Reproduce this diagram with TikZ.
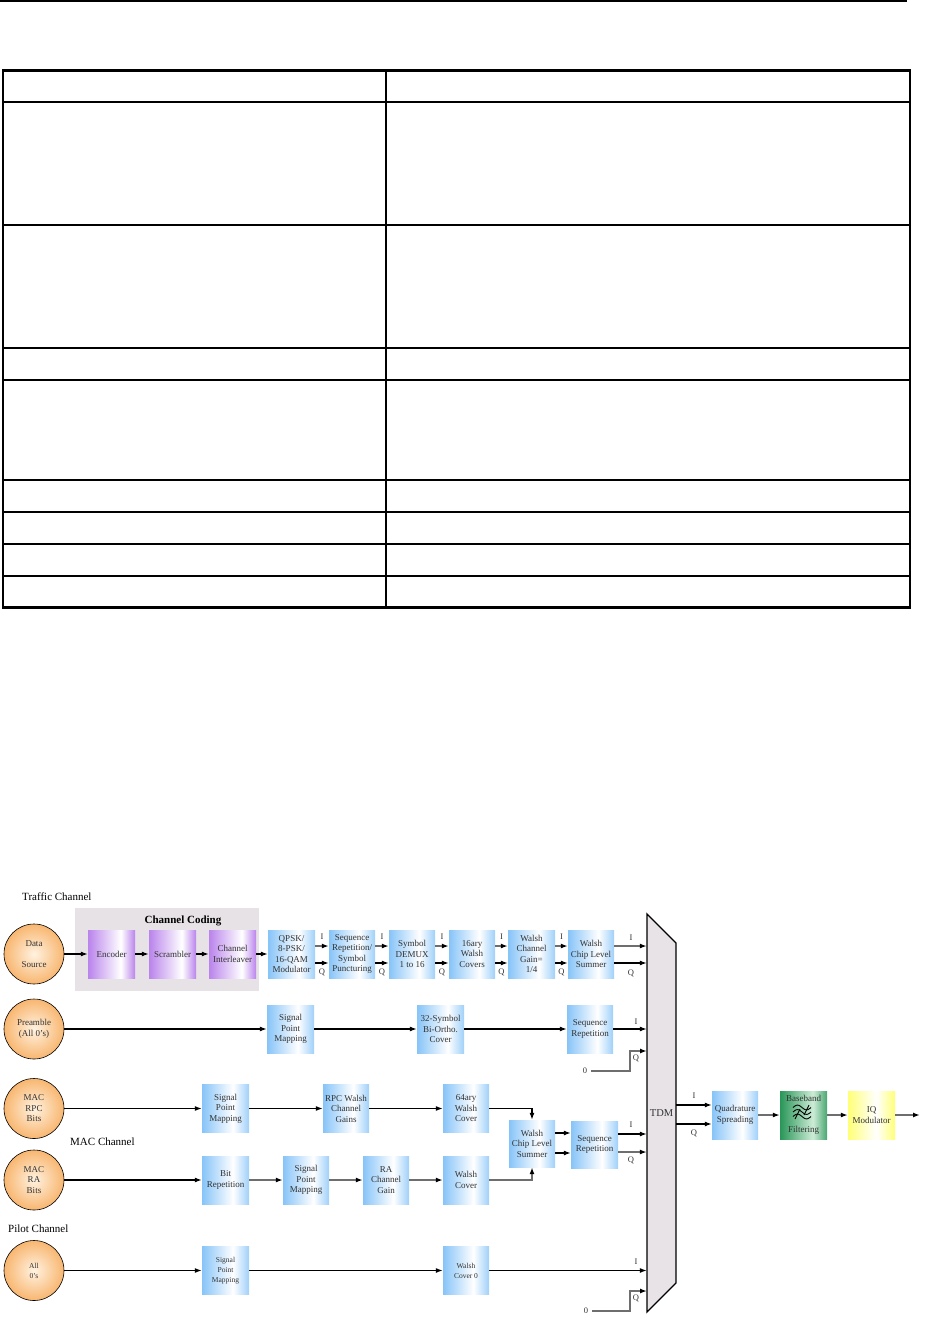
\documentclass[tikz,border=0pt]{standalone}
\usepackage{fontspec}
\setmainfont{Liberation Serif}
\usetikzlibrary{arrows.meta,calc}
\definecolor{bluec}{RGB}{135,196,248}
\definecolor{purc}{RGB}{186,132,236}
\definecolor{grnc}{RGB}{40,150,88}
\definecolor{grnl}{RGB}{205,236,214}
\definecolor{yelc}{RGB}{255,255,120}
\definecolor{orout}{RGB}{248,182,112}
\definecolor{orin}{RGB}{255,242,224}
\definecolor{ccgray}{RGB}{231,226,229}
\definecolor{tdmc}{RGB}{231,227,231}
\definecolor{grl}{RGB}{110,110,110}
\definecolor{txt}{RGB}{50,50,50}
\pgfdeclarehorizontalshading{bluesh}{100bp}{color(0bp)=(bluec); color(25bp)=(bluec); color(58bp)=(white); color(75bp)=(bluec!80); color(100bp)=(bluec!80)}
\pgfdeclarehorizontalshading{pursh}{100bp}{color(0bp)=(purc); color(25bp)=(purc); color(60bp)=(white); color(75bp)=(purc); color(100bp)=(purc)}
\pgfdeclarehorizontalshading{grnsh}{100bp}{color(0bp)=(grnc); color(25bp)=(grnc); color(60bp)=(grnl); color(75bp)=(grnc!85); color(100bp)=(grnc!85)}
\pgfdeclarehorizontalshading{yelsh}{100bp}{color(0bp)=(yelc); color(25bp)=(yelc); color(55bp)=(white); color(75bp)=(yelc); color(100bp)=(yelc)}
\newcommand\bxf{\fontsize{9}{10.5}\selectfont}
\newcommand\iqf{\fontsize{8.5}{10}\selectfont}
\newcommand\ttlf{\fontsize{11}{13}\selectfont}
\newcommand\smf{\fontsize{7.5}{10}\selectfont}
\begin{document}
\begin{tikzpicture}[x=1pt,y=-1pt,
  bx/.style={minimum width=47pt,minimum height=48pt,inner sep=0pt,align=center,font=\bxf,text=txt},
  blu/.style={bx,shading=bluesh},
  pur/.style={bx,shading=pursh},
  grn/.style={bx,shading=grnsh},
  yel/.style={bx,shading=yelsh},
  src/.style={circle,draw=black,line width=0.6pt,minimum size=60pt,inner sep=0pt,inner color=orin,outer color=orout,align=center,font=\bxf,text=txt},
  tip/.style={-{Latex[length=7pt,width=5pt,color=black]}},
  blk/.style={draw=black,line width=1.2pt,tip},
  gry/.style={draw=grl,line width=1.7pt,tip},
  iq/.style={font=\iqf,inner sep=0pt,text=txt},
  ttl/.style={font=\ttlf,anchor=west,inner sep=0pt}
]
\useasboundingbox (0,0) rectangle (924,1322);
% ---------- header rule and empty table ----------
\draw[line width=1.5pt] (0,1) -- (907,1);
\draw[line width=3pt] (2,71) -- (911,71);
\draw[line width=1.2pt] (3,102) -- (910,102);
\draw[line width=1.5pt] (3,225) -- (910,225);
\draw[line width=1.5pt] (3,348) -- (910,348);
\draw[line width=1.5pt] (3,380) -- (910,380);
\draw[line width=1.5pt] (3,480) -- (910,480);
\draw[line width=2pt] (3,512) -- (910,512);
\draw[line width=2.5pt] (3,544) -- (910,544);
\draw[line width=2.5pt] (3,576) -- (910,576);
\draw[line width=3pt] (2,607.5) -- (911,607.5);
\draw[line width=2pt] (3,70) -- (3,609);
\draw[line width=2pt] (910,70) -- (910,609);
\draw[line width=2.5pt] (386,70) -- (386,609);
% ---------- titles ----------
\node[ttl] at (22,897) {Traffic Channel};
\node[ttl] at (70,1142) {MAC Channel};
\node[ttl] at (8,1229) {Pilot Channel};
% ---------- channel coding group ----------
\node[fill=ccgray,minimum width=184pt,minimum height=83pt,inner sep=0pt] (cc) at (167,949.5) {};
\node[font=\ttlf\bfseries,inner sep=0pt] (cct) at (183,921) {Channel Coding};
% ---------- TDM ----------
\draw[fill=tdmc,line width=1.3pt] (647,914) -- (676,943) -- (676,1283) -- (647,1312) -- cycle;
\node[minimum width=29pt,minimum height=398pt,inner sep=0pt,font=\fontsize{10.5}{12}\selectfont,text=txt] (tdm) at (661.5,1113) {TDM};
% ---------- traffic row ----------
\node[src] (data) at (34,954) {Data\\[11pt]Source};
\node[pur] (enc) at (111.5,954) {Encoder};
\node[pur] (scr) at (172.5,954) {Scrambler};
\node[pur] (intl) at (232.5,954) {Channel\\Interleaver};
\node[blu] (qpsk) at (291.5,954) {QPSK/\\8-PSK/\\16-QAM\\Modulator};
\node[blu,minimum width=46pt] (seqrep) at (352,954) {Sequence\\Repetition/\\Symbol\\Puncturing};
\node[blu,minimum width=46pt] (demux) at (412,954) {Symbol\\DEMUX\\1 to 16};
\node[blu,minimum width=46pt] (wc16) at (472,954) {16ary\\Walsh\\Covers};
\node[blu] (wgain) at (531.5,954) {Walsh\\Channel\\Gain=\\1/4};
\node[blu,minimum width=46pt] (sum1) at (591,954) {Walsh\\Chip Level\\Summer};
\draw[blk] (data) -- (enc);
\draw[blk] (enc) -- (scr);
\draw[blk] (scr) -- (intl);
\draw[blk] (intl) -- (qpsk);
\foreach \a/\b in {qpsk/seqrep,seqrep/demux,demux/wc16,wc16/wgain,wgain/sum1}{
  \draw[gry] ([yshift=8pt]\a.east) -- ([yshift=8pt]\b.west);
  \draw[blk] ([yshift=-9pt]\a.east) -- ([yshift=-9pt]\b.west);
  \path ($(\a.east)!0.5!(\b.west)$) ++(0,-17) node[iq] {I};
  \path ($(\a.east)!0.5!(\b.west)$) ++(0,18) node[iq] {Q};
}
\draw[gry] ([yshift=8pt]sum1.east) -- ([yshift=8pt]sum1.east -| tdm.west);
\draw[blk] ([yshift=-9pt]sum1.east) -- ([yshift=-9pt]sum1.east -| tdm.west);
\node[iq] (l1) at (631,938) {I};
\node[iq] (l2) at (631,973) {Q};
% ---------- preamble row ----------
\node[src] (pre) at (34,1029) {Preamble\\(All 0's)};
\node[blu] (spm1) at (290.5,1029) {Signal\\Point\\Mapping};
\node[blu] (bio) at (440.5,1029) {32-Symbol\\Bi-Ortho.\\Cover};
\node[blu,minimum width=46pt] (seq2) at (590,1029) {Sequence\\Repetition};
\draw[blk] (pre) -- (spm1);
\draw[blk] (spm1) -- (bio);
\draw[blk] (bio) -- (seq2);
\draw[blk] (seq2) -- (seq2 -| tdm.west);
\node[iq] (l3) at (636,1022) {I};
\node[iq] (z1) at (585,1071) {0};
\coordinate (q1) at (647,1051);
\draw[gry] ([xshift=4pt]z1.east) -| ([xshift=-17pt]q1) -- (q1);
\node[iq] (l4) at (636,1058) {Q};
% ---------- MAC RPC row ----------
\node[src] (rpc) at (34,1108.5) {MAC\\RPC\\Bits};
\node[blu] (spm2) at (225.5,1108.5) {Signal\\Point\\Mapping};
\node[blu,minimum width=46pt] (rpcg) at (346,1108.5) {RPC Walsh\\Channel\\Gains};
\node[blu,minimum width=46pt] (wc64) at (466,1108.5) {64ary\\Walsh\\Cover};
\draw[blk] (rpc) -- (spm2);
\draw[blk] (spm2) -- (rpcg);
\draw[blk] (rpcg) -- (wc64);
% ---------- MAC summer ----------
\node[blu,minimum width=46pt,minimum height=47pt] (sum2) at (532,1143.5) {Walsh\\Chip Level\\Summer};
\node[blu,minimum height=47pt] (seq3) at (594.5,1144.5) {Sequence\\Repetition};
\draw[blk] (wc64.east) -| (sum2.north);
\draw[blk] ([yshift=10.5pt]sum2.east) -- ([yshift=10.5pt]sum2.east -| seq3.west);
\draw[blk] ([yshift=-9.5pt]sum2.east) -- ([yshift=-9.5pt]sum2.east -| seq3.west);
\draw[blk] ([yshift=10.5pt]seq3.east) -- ([yshift=10.5pt]seq3.east -| tdm.west);
\draw[gry] ([yshift=-7.5pt]seq3.east) -- ([yshift=-7.5pt]seq3.east -| tdm.west);
\node[iq] (l5) at (631,1125) {I};
\node[iq] (l6) at (631,1160) {Q};
% ---------- MAC RA row ----------
\node[src] (ra) at (34,1180) {MAC\\RA\\Bits};
\node[blu] (bitrep) at (225.5,1180) {Bit\\Repetition};
\node[blu,minimum width=46pt] (spm3) at (306,1180) {Signal\\Point\\Mapping};
\node[blu,minimum width=46pt] (rag) at (386,1180) {RA\\Channel\\Gain};
\node[blu,minimum width=46pt] (wcr) at (466,1180) {Walsh\\Cover};
\draw[blk] (ra) -- (bitrep);
\draw[gry] (bitrep) -- (spm3);
\draw[gry] (spm3) -- (rag);
\draw[gry] (rag) -- (wcr);
\draw[gry] (wcr.east) -| (sum2.south);
% ---------- pilot row ----------
\node[src,font=\smf] (pil) at (34,1270.5) {All\\0's};
\node[blu,font=\smf] (spm4) at (225.5,1270.5) {Signal\\Point\\Mapping};
\node[blu,minimum width=46pt,font=\smf] (wc0) at (466,1270.5) {Walsh\\Cover 0};
\draw[blk] (pil) -- (spm4);
\draw[blk] (spm4) -- (wc0);
\draw[blk] (wc0) -- (wc0 -| tdm.west);
\node[iq] (l7) at (636,1262) {I};
\node[iq] (z2) at (586,1311) {0};
\coordinate (q2) at (647,1291);
\draw[gry] ([xshift=4pt]z2.east) -| ([xshift=-17pt]q2) -- (q2);
\node[iq] (l8) at (636,1298) {Q};
% ---------- output chain ----------
\node[blu,minimum width=46pt] (quad) at (735,1115) {Quadrature\\Spreading};
\node[grn] (bbf) at (803.5,1115) {Baseband\\[20pt]Filtering};
\node[yel] (iqm) at (871.5,1115) {IQ\\Modulator};
\draw[blk] ([yshift=10pt]quad.west -| tdm.east) -- ([yshift=10pt]quad.west);
\draw[blk] ([yshift=-9pt]quad.west -| tdm.east) -- ([yshift=-9pt]quad.west);
\node[iq] (l9) at (694,1096) {I};
\node[iq] (l10) at (694,1133) {Q};
\draw[gry] (quad) -- (bbf);
\draw[gry] (bbf) -- (iqm);
\coordinate (out) at (920,1115);
\draw[gry] (iqm) -- (out);
% filter symbol
\foreach \k in {-4.5,0,4.5}{
  \draw[line width=0.9pt,black] plot[domain=0:1,samples=17,smooth] ({793+18*\x},{1112+\k-2.4*sin(360*\x)});
}
\draw[line width=0.9pt] (795,1119) -- (800,1109);
\draw[line width=0.9pt] (804,1115) -- (809,1105);
\end{tikzpicture}
\end{document}
